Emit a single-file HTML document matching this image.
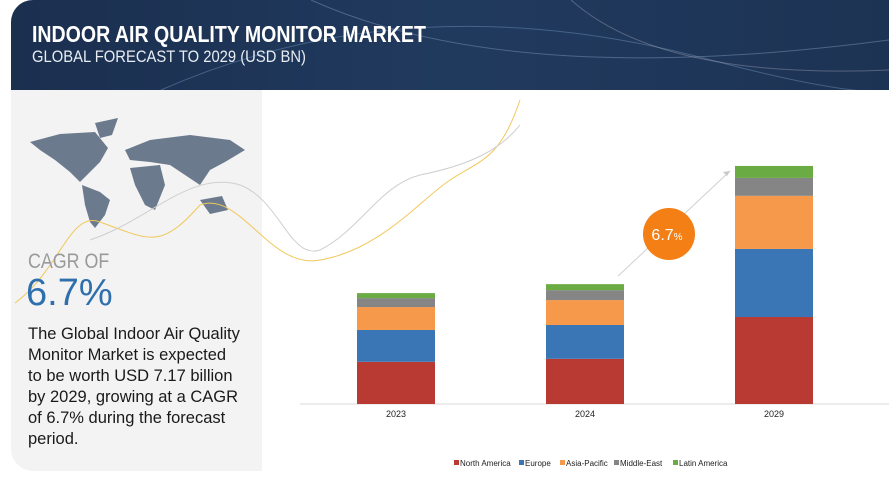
<!DOCTYPE html>
<html><head><meta charset="utf-8"><style>
*{margin:0;padding:0;box-sizing:border-box}
body{width:889px;height:488px;background:#fff;position:relative;overflow:hidden;font-family:"Liberation Sans",sans-serif}
#hdr{position:absolute;left:11px;top:0;width:878px;height:90px;border-top-left-radius:22px;background:linear-gradient(90deg,#1b2f4f,#203a5e 50%,#1d3354);overflow:hidden}
#title{position:absolute;left:21px;top:21px;color:#fff;font-weight:bold;font-size:23px;white-space:nowrap;transform:scaleX(0.85);transform-origin:0 0}
#sub{position:absolute;left:21px;top:47px;color:#e8edf3;font-size:17px;white-space:nowrap;transform:scaleX(0.87);transform-origin:0 0}
#left{position:absolute;left:11px;top:90px;width:251px;height:381px;background:#f3f3f3;border-bottom-left-radius:22px}
#cagr{position:absolute;left:28px;top:250px;font-size:21px;color:#9a9a9a;transform:scaleX(0.85);transform-origin:0 0;white-space:nowrap}
#pct{position:absolute;left:26px;top:272px;font-size:38px;color:#2f6fae}
#para{position:absolute;left:28px;top:324px;width:240px;font-size:16.5px;line-height:21px;color:#1a1a1a;white-space:nowrap}
svg{position:absolute;left:0;top:0}
</style></head><body>
<div id="hdr">
<svg width="878" height="90"><path d="M150,90 Q400,-20 700,60 T878,20" stroke="#5d7ea5" stroke-width="1" fill="none" opacity=".6"/><path d="M300,0 Q500,90 878,40" stroke="#7a95b8" stroke-width="1" fill="none" opacity=".5"/><path d="M560,0 Q650,80 878,70" stroke="#aab" stroke-width="1" fill="none" opacity=".4"/></svg>
<div id="title">INDOOR AIR QUALITY MONITOR MARKET</div>
<div id="sub">GLOBAL FORECAST TO 2029 (USD BN)</div>
</div>
<div id="left"></div>
<svg width="889" height="488">
<g fill="#6c7a8e">
<path d="M30,142 L60,134 L95,132 L108,148 L100,162 L90,172 L80,182 L70,172 L55,160 L40,150 Z"/>
<path d="M95,123 L118,118 L112,135 L100,138 Z"/>
<path d="M82,185 L100,192 L110,200 L105,215 L95,228 L90,222 L85,205 Z"/>
<path d="M125,150 L150,140 L190,135 L230,140 L245,150 L225,162 L210,170 L200,185 L185,175 L170,165 L150,162 L130,160 Z"/>
<path d="M130,168 L160,165 L165,185 L155,210 L145,205 L135,185 Z"/>
<path d="M200,200 L222,196 L228,210 L210,214 Z"/>
</g>
<path d="M15,303 C60,270 70,210 100,222 C150,240 160,250 200,205 C240,190 270,270 320,260 C380,250 420,200 450,180 C480,160 500,160 520,100" stroke="#f0c85a" stroke-width="1" fill="none"/>
<path d="M90,240 C150,220 190,170 240,185 C280,200 290,260 320,250 C360,230 380,185 420,175 C470,165 500,150 520,125" stroke="#cfcfcf" stroke-width="1" fill="none"/>
</svg>
<div id="cagr">CAGR OF</div>
<div id="pct">6.7%</div>
<div id="para">The Global Indoor Air Quality<br>Monitor Market is expected<br>to be worth USD 7.17 billion<br>by 2029, growing at a CAGR<br>of 6.7% during the forecast<br>period.</div>
<svg id="chart" width="889" height="488"></svg>
<script>
const categories=["2023","2024","2029"];
const seriesNames=["North America","Europe","Asia-Pacific","Middle-East","Latin America"];
const northAmerica=[1.27,1.36,2.62];
const europe=[0.96,1.02,2.05];
const asiaPacific=[0.69,0.75,1.60];
const middleEast=[0.27,0.30,0.54];
const latinAmerica=[0.15,0.18,0.36];
const colors=["#b83a32","#3a76b5","#f7994a","#858585","#6aab44"];
const series=[northAmerica,europe,asiaPacific,middleEast,latinAmerica];
const NS="http://www.w3.org/2000/svg";
const svg=document.getElementById('chart');
const baseY=404,pxPer=33.2,barW=78;
const y=v=>baseY-v*pxPer;
const xc=i=>396+i*189;
function mk(t,a){const e=document.createElementNS(NS,t);for(const k in a)e.setAttribute(k,a[k]);svg.appendChild(e);return e;}
const ax=mk('line',{x1:300,x2:889,y1:baseY,y2:baseY,stroke:'#d9d9d9','stroke-width':1});


categories.forEach((c,i)=>{
 let acc=0;
 series.forEach((s,j)=>{
  const r=mk('rect',{x:xc(i)-barW/2,y:y(acc+s[i]),width:barW,height:s[i]*pxPer,fill:colors[j]});
  
  
  acc+=s[i];
 });
 const t=mk('text',{x:xc(i),y:baseY+13,'text-anchor':'middle','font-size':9,fill:'#222'});
 t.textContent=c;
 
 
});
const tot=k=>series.reduce((a,s)=>a+s[k],0);
const arr=mk('line',{x1:618,y1:y(tot(1))-8,x2:730,y2:y(tot(2))+5,stroke:'#d0d0d0','stroke-width':1});


const ah=mk('path',{d:`M730,${y(tot(2))+5} l-7,1 l4,4 z`,fill:'#c8c8c8'});


const circ=mk('circle',{cx:669,cy:234,r:26,fill:'#f47f14'});


const ct=mk('text',{x:667,y:240,'text-anchor':'middle','font-size':16,fill:'#fff'});
ct.innerHTML='6.7<tspan font-size="10">%</tspan>';


const lx=[454,519,560,614,673];
seriesNames.forEach((n,j)=>{
 const g=document.createElementNS(NS,'g');svg.appendChild(g);
 
 
 const r=document.createElementNS(NS,'rect');
 r.setAttribute('x',lx[j]);r.setAttribute('y',460);r.setAttribute('width',5);r.setAttribute('height',5);r.setAttribute('fill',colors[j]);g.appendChild(r);
 const t=document.createElementNS(NS,'text');
 t.setAttribute('x',lx[j]+6);t.setAttribute('y',466);t.setAttribute('font-size',8);t.setAttribute('fill','#222');t.textContent=n;g.appendChild(t);
});
</script>
</body></html>
